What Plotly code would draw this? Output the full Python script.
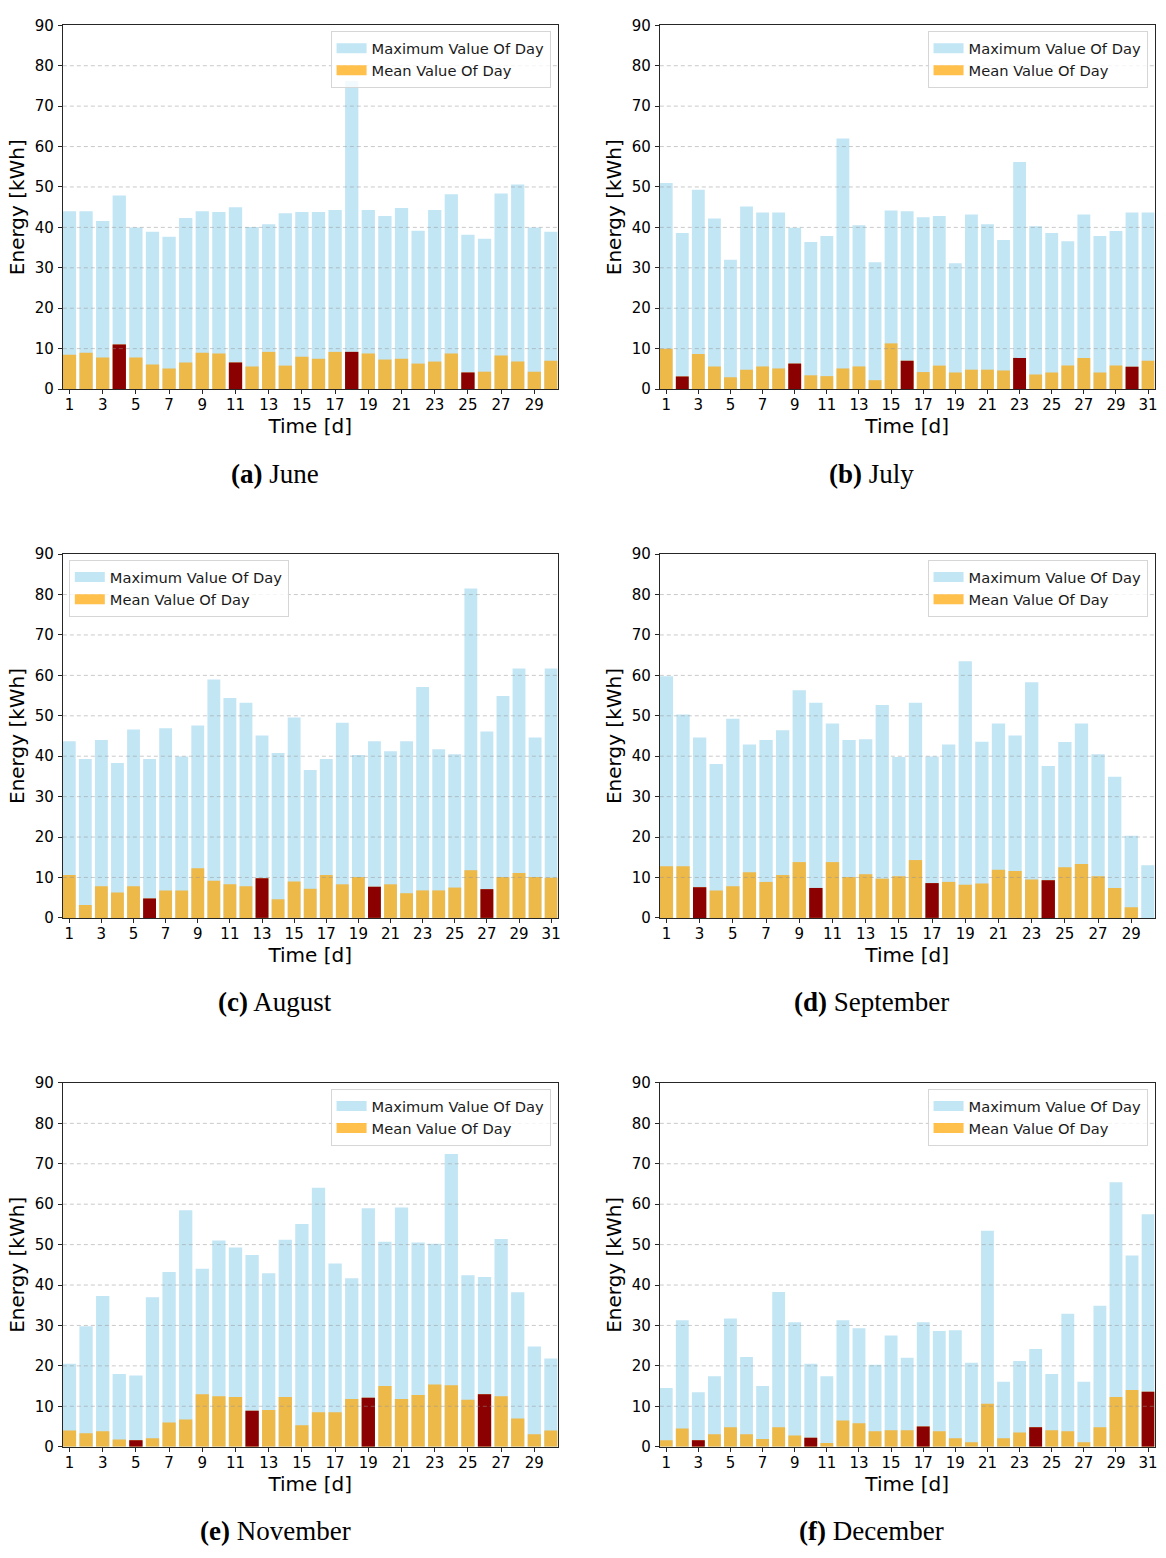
import plotly.graph_objects as go

# ---------------- data ----------------
months = ["June", "July", "August", "September", "November", "December"]
letters = ["a", "b", "c", "d", "e", "f"]

june_max = [44.0, 44.0, 41.6, 47.9, 40.0, 38.9, 37.7, 42.3, 44.0, 43.8,
            45.0, 40.1, 40.8, 43.5, 43.8, 43.8, 44.3, 76.2, 44.3, 42.8,
            44.8, 39.2, 44.3, 48.2, 38.2, 37.2, 48.4, 50.6, 40.0, 38.9]
june_mean = [8.5, 9.0, 7.8, 11.0, 7.8, 6.1, 5.1, 6.6, 9.0, 8.8,
             6.6, 5.6, 9.2, 5.8, 8.0, 7.5, 9.2, 9.2, 8.8, 7.3,
             7.5, 6.3, 6.8, 8.8, 4.1, 4.3, 8.3, 6.8, 4.3, 7.0]
june_red = [4, 11, 18, 25]

july_max = [51.0, 38.6, 49.3, 42.2, 32.0, 45.2, 43.7, 43.7, 39.9, 36.4,
            37.9, 62.0, 40.5, 31.4, 44.2, 44.0, 42.5, 42.8, 31.1, 43.2,
            40.8, 36.9, 56.2, 40.3, 38.6, 36.6, 43.2, 37.9, 39.1, 43.7, 43.7]
july_mean = [10.0, 3.1, 8.7, 5.6, 2.9, 4.8, 5.6, 5.1, 6.3, 3.4,
             3.2, 5.1, 5.6, 2.2, 11.3, 7.0, 4.2, 5.8, 4.1, 4.8,
             4.8, 4.6, 7.7, 3.6, 4.1, 5.8, 7.7, 4.1, 5.8, 5.5, 7.0]
july_red = [2, 9, 16, 23, 30]

aug_max = [43.7, 39.3, 44.0, 38.3, 46.6, 39.3, 46.9, 39.9, 47.6, 59.0,
           54.4, 53.2, 45.1, 40.8, 49.6, 36.6, 39.3, 48.3, 40.3, 43.7,
           41.2, 43.7, 57.1, 41.7, 40.5, 81.5, 46.1, 54.9, 61.7, 44.6, 61.7]
aug_mean = [10.6, 3.2, 7.8, 6.3, 7.8, 4.8, 6.8, 6.8, 12.3, 9.2,
            8.3, 7.8, 9.8, 4.6, 9.0, 7.2, 10.6, 8.3, 10.1, 7.7,
            8.3, 6.1, 6.8, 6.8, 7.5, 11.8, 7.1, 10.1, 11.1, 10.1, 9.9]
aug_red = [6, 13, 20, 27]

sep_max = [59.8, 50.3, 44.6, 38.1, 49.3, 42.9, 44.0, 46.4, 56.3, 53.2,
           48.1, 44.0, 44.2, 52.7, 39.8, 53.2, 39.9, 42.9, 63.5, 43.6,
           48.1, 45.1, 58.3, 37.6, 43.5, 48.1, 40.5, 34.9, 20.3, 13.0]
sep_mean = [12.8, 12.8, 7.6, 6.8, 7.8, 11.3, 8.9, 10.6, 13.8, 7.4,
            13.8, 10.1, 10.8, 9.7, 10.3, 14.3, 8.6, 8.9, 8.2, 8.5,
            11.9, 11.6, 9.5, 9.3, 12.5, 13.3, 10.3, 7.4, 2.6, 0.0]
sep_red = [3, 10, 17, 24]

nov_max = [20.5, 29.8, 37.3, 18.0, 17.6, 37.0, 43.2, 58.5, 44.0, 51.0,
           49.3, 47.4, 42.9, 51.2, 55.1, 64.1, 45.3, 41.7, 59.0, 50.7,
           59.2, 50.5, 50.2, 72.4, 42.4, 42.0, 51.4, 38.2, 24.8, 21.8]
nov_mean = [4.0, 3.3, 3.8, 1.8, 1.6, 2.1, 6.0, 6.7, 13.0, 12.5,
            12.3, 8.9, 9.1, 12.3, 5.3, 8.5, 8.5, 11.8, 12.1, 15.0,
            11.8, 12.8, 15.4, 15.2, 11.6, 13.0, 12.5, 7.0, 3.1, 4.0]
nov_red = [5, 12, 19, 26]

dec_max = [14.5, 31.3, 13.5, 17.4, 31.7, 22.2, 15.0, 38.3, 30.8, 20.5,
           17.4, 31.3, 29.3, 20.3, 27.5, 22.0, 30.8, 28.6, 28.8, 20.8,
           53.4, 16.1, 21.2, 24.2, 18.0, 32.9, 16.1, 34.9, 65.4, 47.3, 57.5]
dec_mean = [1.6, 4.5, 1.6, 3.1, 4.8, 3.1, 1.9, 4.8, 2.8, 2.2,
            0.9, 6.5, 5.8, 3.8, 4.1, 4.1, 5.0, 3.8, 2.1, 1.1,
            10.6, 2.1, 3.5, 4.8, 4.1, 3.8, 1.1, 4.8, 12.3, 14.0, 13.6]
dec_red = [3, 10, 17, 24, 31]

max_series = [june_max, july_max, aug_max, sep_max, nov_max, dec_max]
mean_series = [june_mean, july_mean, aug_mean, sep_mean, nov_mean, dec_mean]
red_series = [june_red, july_red, aug_red, sep_red, nov_red, dec_red]

y_ticks = [0, 10, 20, 30, 40, 50, 60, 70, 80, 90]
legend_names = ["Maximum Value Of Day", "Mean Value Of Day"]

# ---------------- style / layout ----------------
W, H = 1166, 1558
MAX_COLOR = "rgba(135,206,235,0.5)"
MEAN_COLOR = "rgba(255,165,0,0.7)"
RED_COLOR = "#8b0000"
GRID_COLOR = "rgba(150,150,150,0.5)"
SPINE = "#262626"
FONT = "DejaVu Sans"
TICK_SIZE = 15
LEGEND_SIZE = 14.67
LABEL_SIZE = 20

col_px = [(63.0, 559.0), (661.5, 1157.5)]
row_px = [(16.5, 384.5), (551.5, 919.5), (1086.5, 1454.5)]
caption_x = [276, 874]
caption_y = [470, 1005, 1540]
legend_left = [False, False, True, False, False, False]

fig = go.Figure()
shapes = []
annotations = []
layout = dict(
    width=W, height=H, margin=dict(l=0, r=0, t=0, b=0),
    paper_bgcolor="white", plot_bgcolor="white",
    barmode="overlay", bargap=0.2, showlegend=True,
    font=dict(family=FONT, color="black"),
)

for i in range(6):
    r, c = divmod(i, 2)
    mx, mn, red = max_series[i], mean_series[i], red_series[i]
    n = len(mx)
    days = list(range(1, n + 1))
    sfx = "" if i == 0 else str(i + 1)
    xa, ya = "x" + sfx, "y" + sfx
    leg = "legend" + sfx

    fig.add_trace(go.Bar(x=days, y=mx, marker=dict(color=MAX_COLOR, line=dict(width=0)),
                         width=0.8, xaxis=xa, yaxis=ya, showlegend=False,
                         name=legend_names[0]))
    fig.add_trace(go.Bar(x=days, y=mn, marker=dict(color=MEAN_COLOR, line=dict(width=0)),
                         width=0.8, xaxis=xa, yaxis=ya, showlegend=False,
                         name=legend_names[1]))
    fig.add_trace(go.Bar(x=red, y=[mn[d - 1] for d in red],
                         marker=dict(color=RED_COLOR, line=dict(width=0)),
                         width=0.8, xaxis=xa, yaxis=ya, showlegend=False,
                         name="Sunday"))
    # legend proxies (matplotlib-like wide patches)
    for name, col in zip(legend_names, [MAX_COLOR, MEAN_COLOR]):
        fig.add_trace(go.Scatter(x=[None], y=[None], mode="lines",
                                 line=dict(color=col, width=11),
                                 name=name, xaxis=xa, yaxis=ya, legend=leg,
                                 hoverinfo="skip"))

    x0p, x1p = col_px[c]
    y0p, y1p = row_px[r]
    axis_common = dict(ticks="outside", ticklen=4, tickwidth=1, tickcolor=SPINE,
                       showline=True, linecolor=SPINE, linewidth=1, mirror=True,
                       showgrid=False, zeroline=False,
                       tickfont=dict(size=TICK_SIZE, color="black", family=FONT))
    layout["xaxis" + sfx] = dict(
        domain=[x0p / W, x1p / W], anchor=ya,
        range=[0.6, n + 0.4], tickvals=days[::2], ticktext=[str(d) for d in days[::2]],
        ticklabelstandoff=-2,
        title=dict(text="Time [d]", font=dict(size=LABEL_SIZE, family=FONT, color="black"),
                   standoff=2),
        **axis_common)
    layout["yaxis" + sfx] = dict(
        domain=[1 - y1p / H, 1 - y0p / H], anchor=xa,
        range=[0, 90], tickvals=y_ticks, ticklabelstandoff=1,
        title=dict(text="Energy [kWh]", font=dict(size=LABEL_SIZE, family=FONT, color="black"),
                   standoff=4),
        **axis_common)

    # dashed grid drawn over the bars (as in the reference)
    for v in y_ticks[1:-1]:
        shapes.append(dict(type="line", xref=xa + " domain", yref=ya,
                           x0=0, x1=1, y0=v, y1=v, layer="above",
                           line=dict(color=GRID_COLOR, width=1, dash="4px,3px")))

    if legend_left[i]:
        lx, lxa = (x0p + 6) / W, "left"
    else:
        lx, lxa = (x1p - 7) / W, "right"
    layout[leg] = dict(x=lx, xanchor=lxa, y=1 - (y0p + 6) / H, yanchor="top",
                       bgcolor="rgba(255,255,255,0.8)", bordercolor="#d6d6d6",
                       borderwidth=1, itemwidth=30,
                       font=dict(size=LEGEND_SIZE, family=FONT, color="#1a1a1a"),
                       tracegroupgap=0)

    annotations.append(dict(text="<b>(%s)</b> %s" % (letters[i], months[i]),
                            xref="paper", yref="paper",
                            x=caption_x[c] / W, y=1 - caption_y[r] / H,
                            xanchor="center", yanchor="middle", showarrow=False,
                            font=dict(family="Liberation Serif", size=27, color="black")))

layout["shapes"] = shapes
layout["annotations"] = annotations
fig.update_layout(**layout)
fig.write_html("out.html")
